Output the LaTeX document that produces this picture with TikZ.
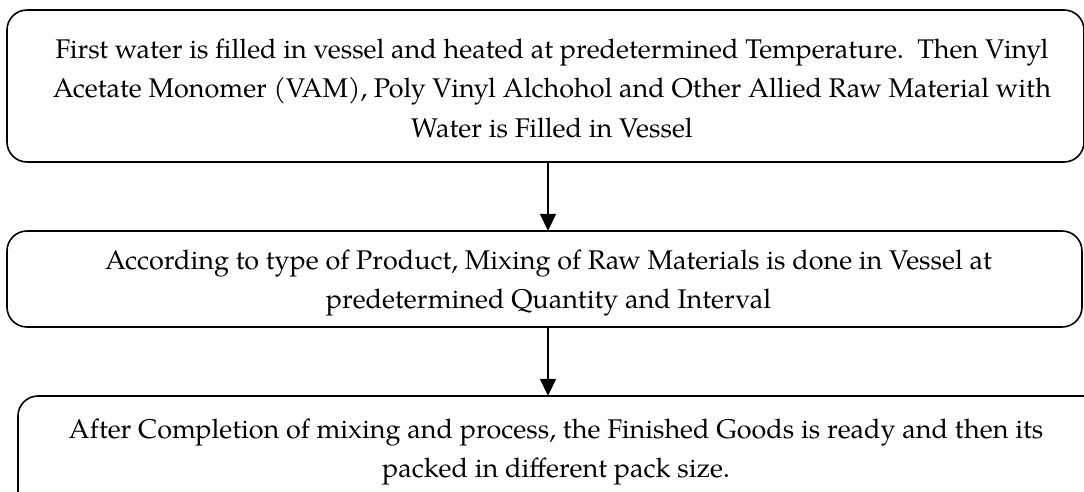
\documentclass[tikz,border=0pt]{standalone}
\usepackage{fontspec}
\setmainfont{TeX Gyre Pagella}
\usetikzlibrary{arrows.meta}
\tikzset{
  flowbox/.style={draw=black, line width=1.6pt, rounded corners=20pt, fill=white},
  flowtext/.style={align=center, font=\fontsize{27pt}{39.5pt}\selectfont, inner sep=0pt},
  flowarrow/.style={line width=1.8pt, -{Triangle[length=17pt,width=16pt]}}
}
\begin{document}
\begin{tikzpicture}[x=1pt,y=1pt]
\useasboundingbox (0,0) rectangle (1084,-492);
\fill[white] (0,0) rectangle (1084,-492);
\draw[flowbox] (7,-10) rectangle (1084,-162);
\node[minimum width=1077pt, minimum height=152pt, inner sep=0pt] (b1) at (545.5,-86) {};
\draw[flowbox] (7,-231) rectangle (1082,-327);
\node[minimum width=1075pt, minimum height=96pt, inner sep=0pt] (b2) at (544.5,-279) {};
\draw[flowbox] (18,-396) rectangle (1110,-520);
\node[minimum width=1092pt, minimum height=124pt, inner sep=0pt] (b3) at (564,-458) {};
\node[flowtext] (t1) at (552,-88) {First water is filled in vessel and heated at predetermined Temperature.\ \ Then Vinyl\\Acetate Monomer (VAM), Poly Vinyl Alchohol and Other Allied Raw Material with\\Water is Filled in Vessel};
\node[flowtext] (t2) at (548.5,-283) {According to type of Product, Mixing of Raw Materials is done in Vessel at\\predetermined Quantity and Interval};
\node[flowtext] (t3) at (556,-452) {After Completion of mixing and process, the Finished Goods is ready and then its\\packed in different pack size.};
\coordinate (a1s) at (548,-162);
\coordinate (a2s) at (548,-327);
\draw[flowarrow] (a1s) -- (a1s |- b2.north);
\draw[flowarrow] (a2s) -- (a2s |- b3.north);
\end{tikzpicture}
\end{document}
